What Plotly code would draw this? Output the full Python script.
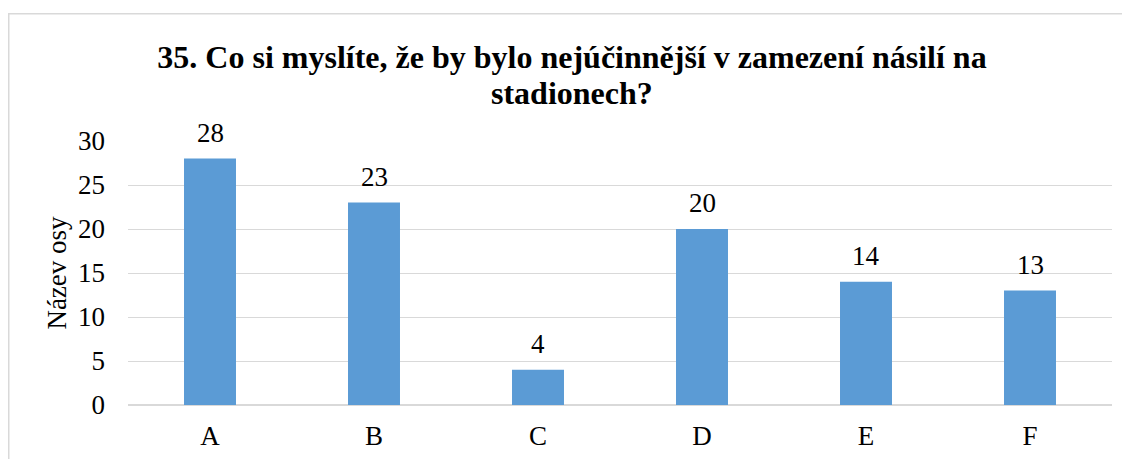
import plotly.graph_objects as go

categories = ["A", "B", "C", "D", "E", "F"]
values = [28, 23, 4, 20, 14, 13]
title_line1 = "35. Co si myslíte, že by bylo nejúčinnější v zamezení násilí na"
title_line2 = "stadionech?"
y_title = "Název osy"
y_ticks = [0, 5, 10, 15, 20, 25, 30]

SERIF = "Liberation Serif, Times New Roman, DejaVu Serif, serif"
FS = 27
OFF = 8  # page body margin
W, H = 1130 - OFF, 459 - OFF
L, T = 128 - OFF, 141 - OFF
plot_w = 984
plot_h = 264
R = W - L - plot_w
B = H - T - plot_h

fig = go.Figure()
fig.add_trace(go.Bar(
    x=categories, y=values,
    marker=dict(color="#5B9BD5", line=dict(width=0)),
    width=0.317,
    hoverinfo="x+y",
))

for c, v in zip(categories, values):
    fig.add_annotation(x=c, y=v, xref="x", yref="y", text=str(v), showarrow=False,
                       yanchor="middle", xanchor="center", yshift=26,
                       font=dict(family=SERIF, size=FS, color="#000000"))

# second title line, placed with tighter line spacing like the original
fig.add_annotation(text="<b>" + title_line2 + "</b>", xref="paper", yref="paper",
                   x=(572 - 128) / plot_w, y=(405 - 93) / plot_h, xanchor="center", yanchor="middle",
                   showarrow=False, font=dict(family=SERIF, size=32, color="#000000"))

# chart border (cropped at right and bottom)
fig.add_shape(type="rect", xref="paper", yref="paper",
              x0=(8.75 - 128) / plot_w, x1=(1140 - 128) / plot_w,
              y0=(405 - 470) / plot_h, y1=(405 - 13.75) / plot_h,
              line=dict(color="#d9d9d9", width=1.5), fillcolor="rgba(0,0,0,0)", layer="below")

fig.update_layout(
    width=W, height=H,
    margin=dict(l=L, r=R, t=T, b=B, autoexpand=False),
    paper_bgcolor="white", plot_bgcolor="white",
    font=dict(family=SERIF, color="#000000", size=FS),
    title=dict(text=title_line1, x=(572 - OFF) / W, xanchor="center", y=1 - (57 - OFF) / H, yanchor="middle",
               yref="container", xref="container",
               font=dict(family=SERIF, size=32, color="#000000", weight="bold")),
    showlegend=False,
)
fig.update_yaxes(range=[0, 30], tickvals=y_ticks, showgrid=True, gridcolor="#d9d9d9", gridwidth=1,
                 zeroline=True, zerolinecolor="#d9d9d9", showline=False, ticks="",
                 ticklabelstandoff=22,
                 title=dict(text=y_title, standoff=3, font=dict(family=SERIF, size=FS)),
                 tickfont=dict(family=SERIF, size=FS))
fig.update_xaxes(showline=False, ticks="", tickfont=dict(family=SERIF, size=FS), ticklabelstandoff=12)

fig.write_html("out.html")
